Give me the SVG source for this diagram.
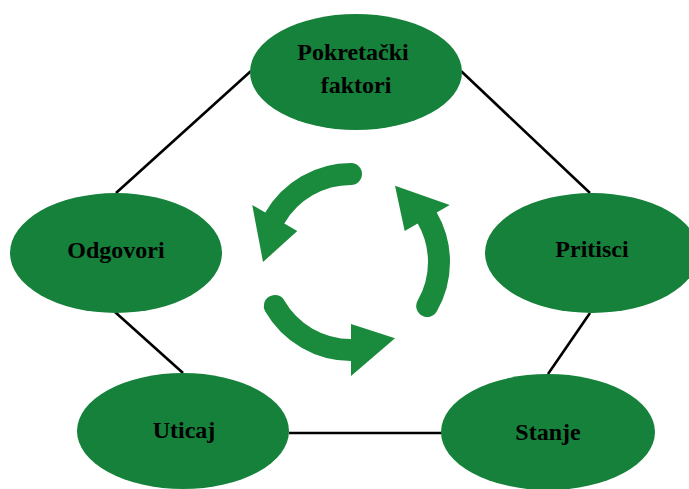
<svg xmlns="http://www.w3.org/2000/svg" width="689" height="489" viewBox="0 0 689 489">
<style>
.node{fill:#15813a}
.lbl{font-family:"Liberation Serif","Times New Roman",serif;font-weight:bold;font-size:24px;fill:#000;text-anchor:middle}
.conn{stroke:#000;stroke-width:2.6;fill:none}
.shaft{stroke:#1a8a3c;stroke-width:22;fill:none;stroke-linecap:round}
.head{fill:#1a8a3c}
</style>
<rect width="689" height="489" fill="#fff"/>
<g id="connectors">
<line class="conn" x1="251" y1="71" x2="116" y2="193"/>
<line class="conn" x1="461" y1="71" x2="590" y2="193"/>
<line class="conn" x1="115" y1="312" x2="183" y2="373"/>
<line class="conn" x1="590" y1="313" x2="548" y2="374"/>
<line class="conn" x1="289" y1="433" x2="442" y2="433"/>
</g>
<g id="cycle">
<path class="shaft" d="M351 174 A88 88 0 0 0 274.79 218"/>
<polygon class="head" points="297.31,231 252.27,205 263,262"/>
<path class="shaft" d="M427.21 306 A88 88 0 0 0 427.21 218"/>
<polygon class="head" points="404.69,231 449.73,205 395,185.79"/>
<path class="shaft" d="M274.79 306 A88 88 0 0 0 351 350"/>
<polygon class="head" points="351,324 351,376 395,338.21"/>
</g>
<g id="pokretacki">
<ellipse class="node" cx="356" cy="72" rx="106" ry="58"/>
<text class="lbl" x="353" y="60">Pokretački</text>
<text class="lbl" x="356" y="93">faktori</text>
</g>
<g id="pritisci">
<ellipse class="node" cx="592" cy="253" rx="107" ry="60"/>
<text class="lbl" x="592" y="257">Pritisci</text>
</g>
<g id="stanje">
<ellipse class="node" cx="548" cy="432" rx="107" ry="58"/>
<text class="lbl" x="548" y="440">Stanje</text>
</g>
<g id="uticaj">
<ellipse class="node" cx="183" cy="431" rx="106" ry="58"/>
<text class="lbl" x="184" y="438">Uticaj</text>
</g>
<g id="odgovori">
<ellipse class="node" cx="116" cy="253" rx="106" ry="60"/>
<text class="lbl" x="116" y="258">Odgovori</text>
</g>
</svg>
